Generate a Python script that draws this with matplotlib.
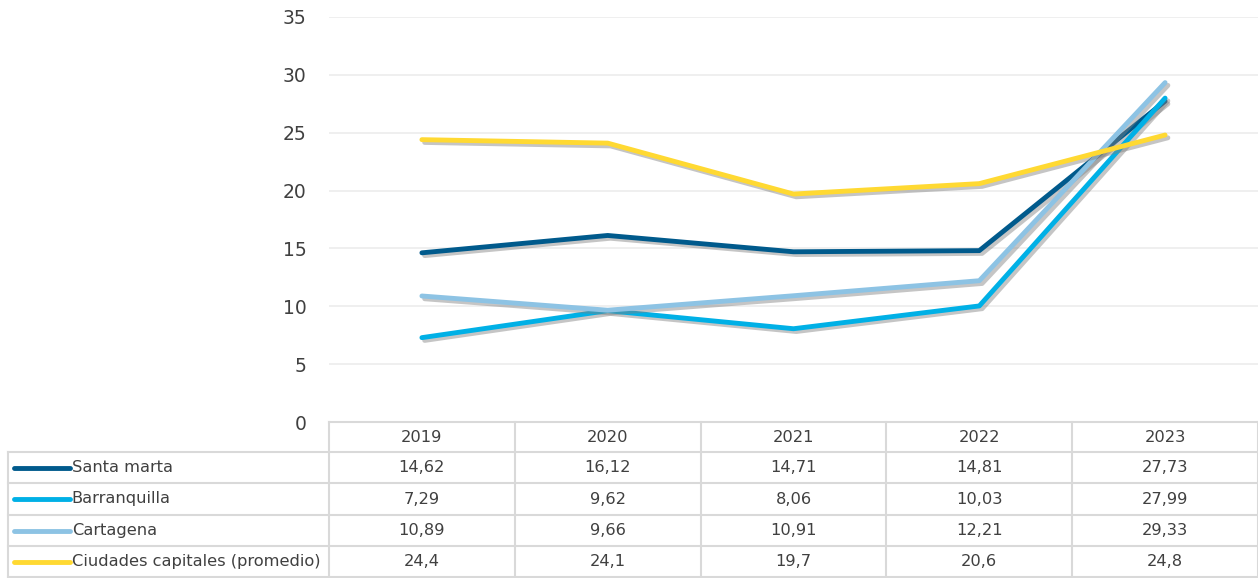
import matplotlib.pyplot as plt
import matplotlib.patheffects as pe
from matplotlib.transforms import blended_transform_factory
from matplotlib.lines import Line2D

years = ["2019", "2020", "2021", "2022", "2023"]
santa_marta = [14.62, 16.12, 14.71, 14.81, 27.73]
barranquilla = [7.29, 9.62, 8.06, 10.03, 27.99]
cartagena = [10.89, 9.66, 10.91, 12.21, 29.33]
capitales = [24.4, 24.1, 19.7, 20.6, 24.8]

series_names = ["Santa marta", "Barranquilla", "Cartagena", "Ciudades capitales (promedio)"]
series_vals = [santa_marta, barranquilla, cartagena, capitales]
series_labels = [
    ["14,62", "16,12", "14,71", "14,81", "27,73"],
    ["7,29", "9,62", "8,06", "10,03", "27,99"],
    ["10,89", "9,66", "10,91", "12,21", "29,33"],
    ["24,4", "24,1", "19,7", "20,6", "24,8"],
]
colors = ["#005a8c", "#00b0e6", "#8dc3e4", "#ffd932"]

W, H = 1258, 578
fig = plt.figure(figsize=(W / 100, H / 100), dpi=100)
ax = fig.add_axes([329 / W, (H - 422) / H, (W - 329) / W, (422 - 17) / H])

x = list(range(len(years)))
shadow = [pe.SimpleLineShadow(offset=(2, -2), shadow_color="#7f7f7f", alpha=0.45), pe.Normal()]
for vals, c in zip(series_vals, colors):
    ax.plot(x, vals, color=c, lw=3.5, solid_capstyle="round", solid_joinstyle="round",
            path_effects=shadow, zorder=3)

ax.set_xlim(-0.5, 4.5)
ax.set_ylim(0, 35)
ax.set_yticks(range(0, 36, 5))
ax.set_xticks([])
ax.grid(axis="y", color="#ececec", lw=1.2)
ax.set_axisbelow(True)
for s in ax.spines.values():
    s.set_visible(False)
ax.tick_params(axis="y", length=0, labelsize=13.5, labelcolor="#404040", pad=16)

# data table under the chart
grid_c = "#d9d9d9"
txt_c = "#404040"
tr = blended_transform_factory(ax.transData, ax.transAxes)
ph = 405.0
rows_y = [0, -30 / ph, -61 / ph, -93 / ph, -124 / ph, -155 / ph]
col_px = (W - 329) / 5
x_left = -0.5 - (329 - 8) / col_px


def seg(x0, x1, y0, y1):
    fig.add_artist(Line2D([x0, x1], [y0, y1], transform=tr, color=grid_c, lw=1.5, clip_on=False))


seg(-0.5, 4.5, rows_y[0], rows_y[0])
for y in rows_y[1:]:
    seg(x_left, 4.5, y, y)
seg(x_left, x_left, rows_y[1], rows_y[-1])
for i in range(6):
    seg(-0.5 + i, -0.5 + i, rows_y[0], rows_y[-1])

fs = 11.7
for i, yr in enumerate(years):
    ax.text(i, (rows_y[0] + rows_y[1]) / 2, yr, transform=tr, ha="center", va="center",
            fontsize=fs, color=txt_c, clip_on=False)

key_len = (70 - 14) / col_px
key_x0 = x_left + 6 / col_px
for r, (name, labs, c) in enumerate(zip(series_names, series_labels, colors)):
    yc = (rows_y[r + 1] + rows_y[r + 2]) / 2
    fig.add_artist(Line2D([key_x0, key_x0 + key_len], [yc, yc], transform=tr, color=c, lw=3.5,
                          solid_capstyle="round", clip_on=False))
    ax.text(key_x0 + key_len + 0.01, yc, name, transform=tr, ha="left", va="center",
            fontsize=fs, color=txt_c, clip_on=False)
    for i, lab in enumerate(labs):
        ax.text(i, yc, lab, transform=tr, ha="center", va="center",
                fontsize=fs, color=txt_c, clip_on=False)

fig.savefig("out.png", dpi=100)
